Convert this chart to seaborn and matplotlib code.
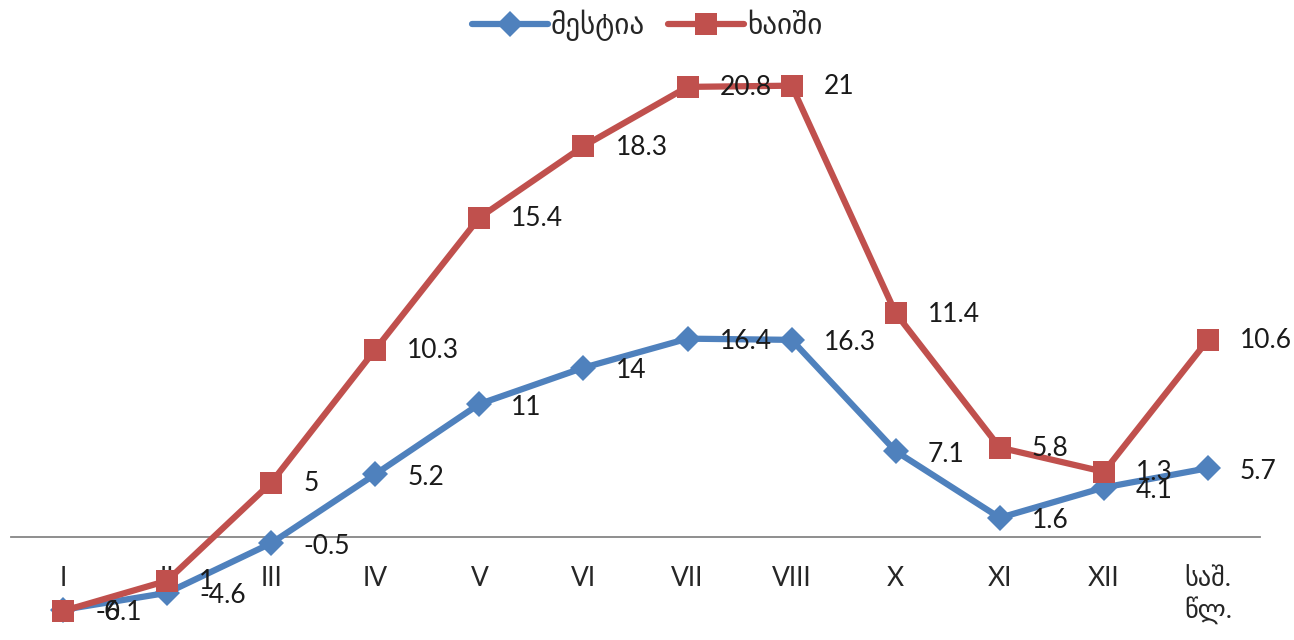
import matplotlib
matplotlib.use("Agg")
import matplotlib.pyplot as plt
import seaborn as sns
import numpy as np
import pandas as pd

categories = ['I', 'II', 'III', 'IV', 'V', 'VI', 'VII', 'VIII', 'X', 'XI', 'XII', 'საშ.\nწლ.']
mestia = [-6, -4.6, -0.5, 5.2, 11, 14, 16.4, 16.3, 7.1, 1.6, 4.1, 5.7]
khaishi = [-0.1, 1, 5, 10.3, 15.4, 18.3, 20.8, 21, 11.4, 5.8, 1.3, 10.6]
series_names = ['მესტია', 'ხაიში']

sns.set_theme(style="white")
plt.rcParams['font.family'] = ['Lato', 'DejaVu Sans']

BLUE = '#4F81BD'
RED = '#C0504D'

fig = plt.figure(figsize=(12.94, 6.4), dpi=100)
ax = fig.add_axes([11 / 1294, 6 / 640, 1249 / 1294, (634 - 53) / 640])

x = np.arange(len(categories))
stacked = np.array(mestia) + np.array(khaishi)  # stacked line chart

df = pd.DataFrame({'x': x, 'mestia': mestia, 'stacked': stacked})

sns.lineplot(data=df, x='x', y='mestia', ax=ax, color=BLUE, linewidth=4.5,
             marker='D', markersize=13, markeredgewidth=0, zorder=3,
             label=series_names[0])
sns.lineplot(data=df, x='x', y='stacked', ax=ax, color=RED, linewidth=4.5,
             marker='s', markersize=16, markeredgewidth=0, zorder=4,
             label=series_names[1])

for xi, yv, lab in zip(x, mestia, mestia):
    ax.annotate(f"{lab:g}", (xi, yv), xytext=(32, -3), textcoords='offset pixels',
                ha='left', va='center', fontsize=19, color='#1a1a1a', zorder=5)
for xi, yv, lab in zip(x, stacked, khaishi):
    ax.annotate(f"{lab:g}", (xi, yv), xytext=(32, -1), textcoords='offset pixels',
                ha='left', va='center', fontsize=19, color='#1a1a1a', zorder=5)

ax.set_xlim(-0.5, len(categories) - 0.5)
ax.set_ylim(-8, 40)
ax.set_yticks([])
ax.set_xticks(x)
ax.set_xticklabels(categories, fontsize=19, color='#1a1a1a', linespacing=1.9)
ax.tick_params(axis='x', length=0, pad=21, labelsize=19)
for s in ['top', 'right', 'left']:
    ax.spines[s].set_visible(False)
ax.spines['bottom'].set_position(('data', 0))
ax.spines['bottom'].set_color('#868686')
ax.spines['bottom'].set_linewidth(1.3)
ax.set_xlabel('')
ax.set_ylabel('')

leg = ax.legend(loc='center', bbox_to_anchor=(0.5, (640 - 25) / 640), bbox_transform=fig.transFigure,
                ncol=2, frameon=False, fontsize=21, handlelength=2.6, columnspacing=0.8,
                handletextpad=0.1)

fig.savefig('out.png', dpi=100)
